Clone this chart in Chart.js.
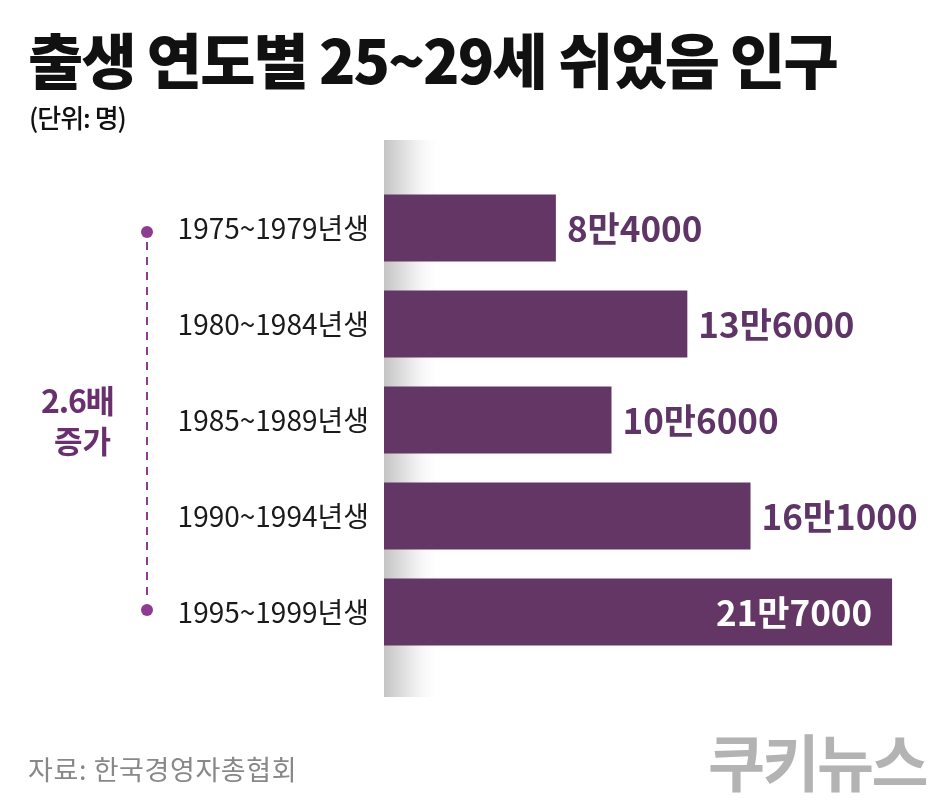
<!DOCTYPE html>
<html><head><meta charset="utf-8">
<script src="https://cdn.jsdelivr.net/npm/chart.js@4"></script>
<style>
html,body{margin:0;padding:0;background:#fff;}
#wrap{position:relative;width:950px;height:807px;overflow:hidden;font-family:"Noto Sans CJK KR","Noto Sans",sans-serif;}
canvas{position:absolute;left:0;top:0;}
.t{position:absolute;white-space:nowrap;}
</style></head>
<body>
<div id="wrap">
<canvas id="c" width="950" height="807"></canvas>
<div class="t" style="left:28px;top:14px;font-size:60px;font-weight:900;color:#111;letter-spacing:-1.8px;">출생 연도별 25~29세 쉬었음 인구</div>
<div class="t" style="left:29px;top:98px;font-size:26px;font-weight:500;color:#111;letter-spacing:-1px;">(단위: 명)</div>
<div class="t" style="left:41px;top:376px;font-size:32px;font-weight:700;color:#6a2f6e;letter-spacing:-1.2px;">2.6배</div>
<div class="t" style="left:54px;top:417px;font-size:31px;font-weight:700;color:#6a2f6e;">증가</div>
<div class="t" style="left:28px;top:749px;font-size:27px;font-weight:400;color:#888;letter-spacing:0.6px;">자료: 한국경영자총협회</div>
<div class="t" style="left:708px;top:715px;font-size:62px;font-weight:700;color:#b3b3b3;letter-spacing:-2.5px;">쿠키뉴스</div>
</div>
<script>
const categories = ['1975~1979년생', '1980~1984년생', '1985~1989년생', '1990~1994년생', '1995~1999년생'];
const values = [84000, 136000, 106000, 161000, 217000];
const valueLabels = ['8만4000', '13만6000', '10만6000', '16만1000', '21만7000'];

const FONT = '"Noto Sans CJK KR","Noto Sans",sans-serif';
const BAR = '#633666';
const ACCENT = '#8e3b91';

const decor = {
  id: 'decor',
  beforeDatasetsDraw(chart) {
    const {ctx, chartArea} = chart;
    const x0 = chartArea.left;
    const g = ctx.createLinearGradient(x0, 0, x0 + 58, 0);
    g.addColorStop(0, '#c4c4c4');
    g.addColorStop(0.5, '#ececec');
    g.addColorStop(1, 'rgba(255,255,255,0)');
    ctx.save();
    ctx.fillStyle = g;
    ctx.fillRect(x0, chartArea.top - 40, 58, chartArea.bottom - chartArea.top + 77);
    ctx.restore();
  },
  afterDatasetsDraw(chart) {
    const {ctx} = chart;
    const bars = chart.getDatasetMeta(0).data;
    ctx.save();
    ctx.font = '700 35px ' + FONT;
    ctx.textBaseline = 'middle';
    bars.forEach((b, i) => {
      if (i === bars.length - 1) {
        ctx.fillStyle = '#fff';
        ctx.textAlign = 'right';
        ctx.fillText(valueLabels[i], b.x - 20, b.y + 1);
      } else {
        ctx.fillStyle = '#5f3466';
        ctx.textAlign = 'left';
        ctx.fillText(valueLabels[i], b.x + 11, b.y + 1);
      }
    });
    const cx = 147;
    const yTop = bars[0].y + 4, yBot = bars[bars.length - 1].y - 2;
    ctx.strokeStyle = ACCENT;
    ctx.lineWidth = 2;
    ctx.setLineDash([8, 7]);
    ctx.beginPath();
    ctx.moveTo(cx, yTop + 10);
    ctx.lineTo(cx, yBot - 10);
    ctx.stroke();
    ctx.setLineDash([]);
    ctx.fillStyle = ACCENT;
    [yTop, yBot].forEach(y => { ctx.beginPath(); ctx.arc(cx, y, 6, 0, Math.PI * 2); ctx.fill(); });
    ctx.restore();
  }
};

new Chart(document.getElementById('c'), {
  type: 'bar',
  data: {
    labels: categories,
    datasets: [{
      data: values,
      backgroundColor: BAR,
      borderWidth: 0,
      categoryPercentage: 1,
      barPercentage: 0.7
    }]
  },
  options: {
    indexAxis: 'y',
    responsive: false,
    animation: false,
    layout: {padding: {left: 0, right: 20, top: 180, bottom: 147}},
    plugins: {legend: {display: false}, tooltip: {enabled: false}},
    scales: {
      x: {display: false, min: 16000, max: 232000},
      y: {
        grid: {display: false},
        border: {display: false},
        ticks: {font: {family: FONT, size: 28, weight: 400}, color: '#1a1a1a', padding: 7},
        afterFit(s) { s.width = 384; }
      }
    }
  },
  plugins: [decor]
});
</script>
</body></html>
